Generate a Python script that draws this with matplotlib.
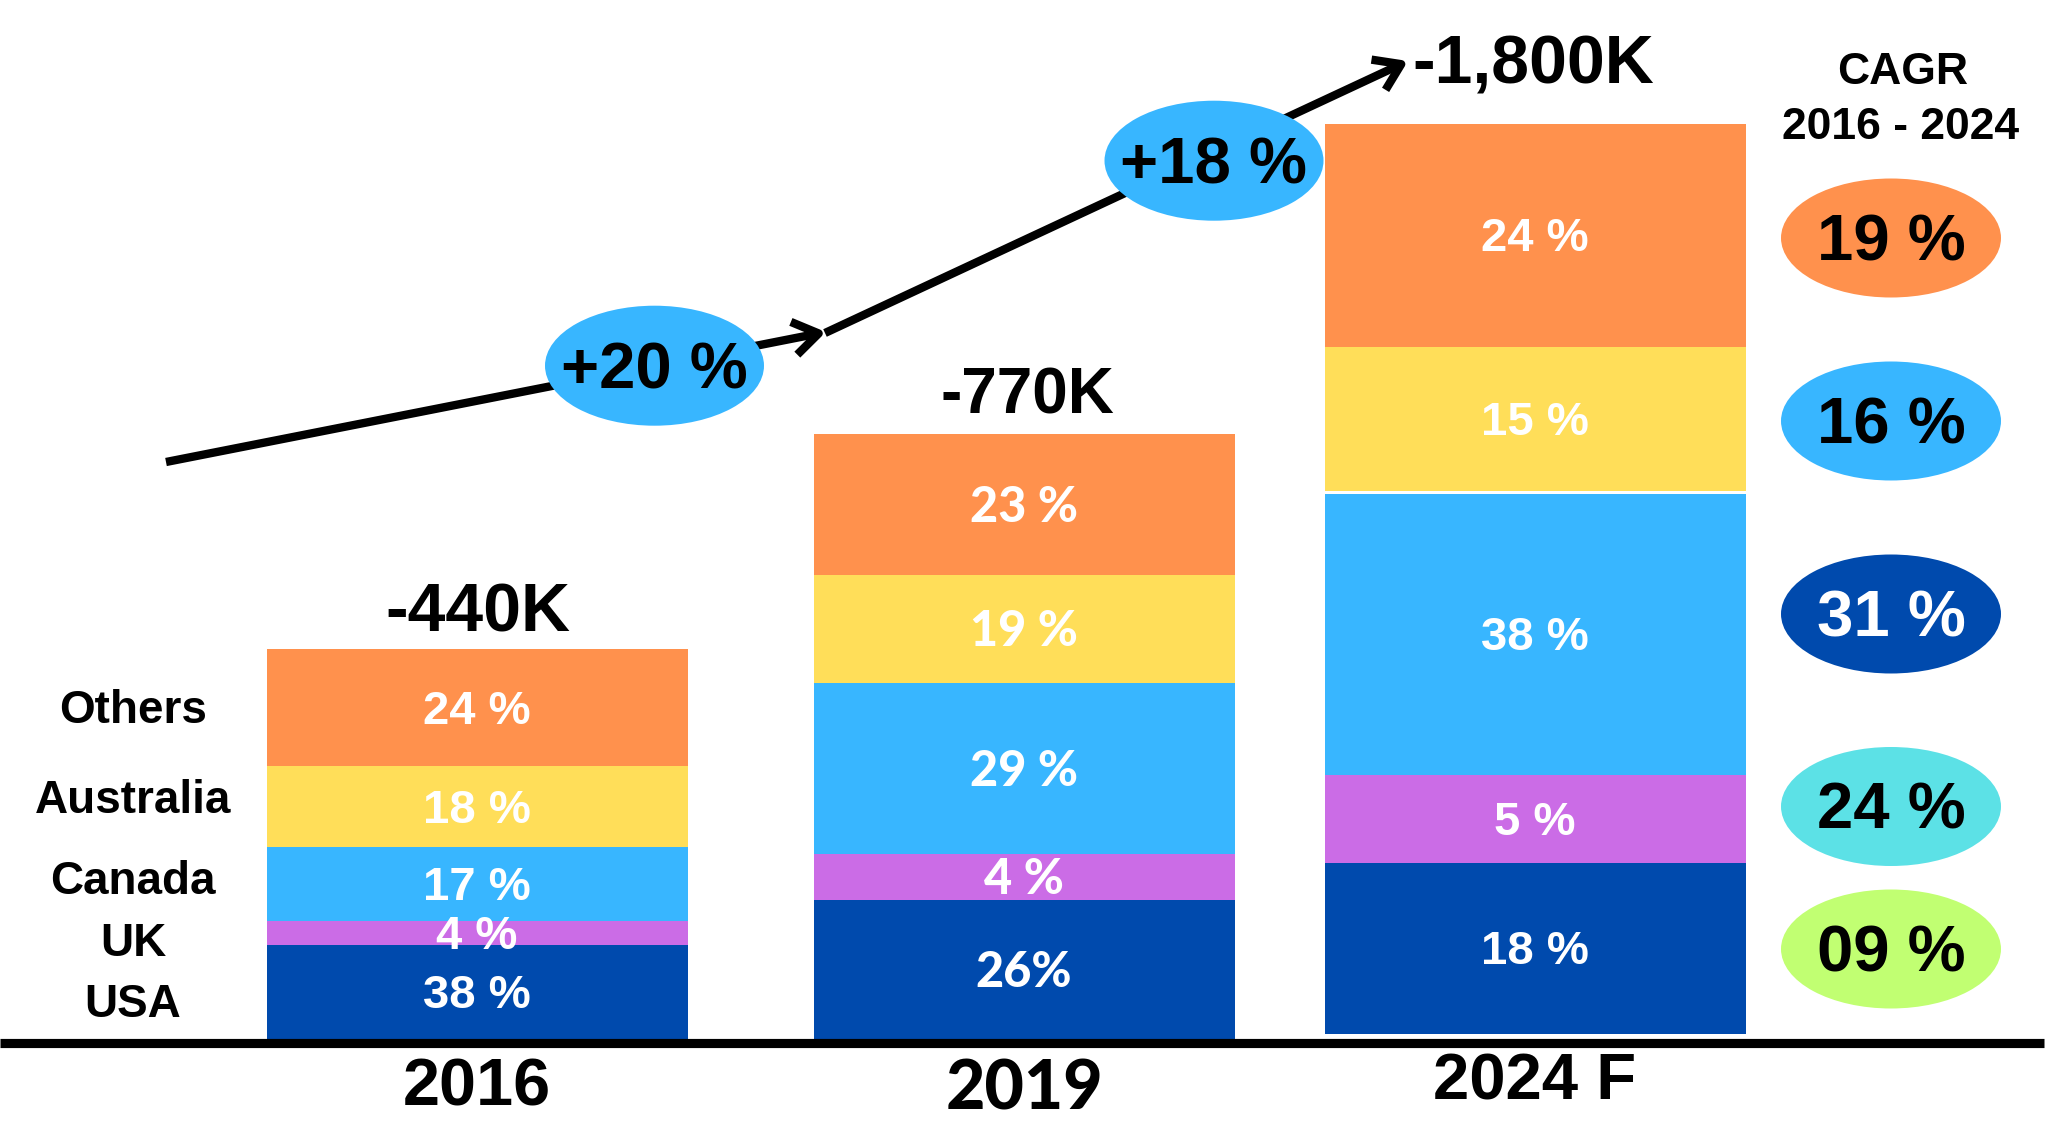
import matplotlib
matplotlib.use('Agg')
import matplotlib.pyplot as plt
from matplotlib.patches import Ellipse, FancyArrowPatch
from matplotlib import font_manager as fm
import numpy as np

# ---------------- data ----------------
years = ['2016', '2019', '2024 F']
totals = ['-440K', '-770K', '-1,800K']
series = ['USA', 'UK', 'Canada', 'Australia', 'Others']
# segment heights as drawn in the picture (not proportional to the shares)
usa = [94, 139, 171]
uk = [24, 46, 88]
canada = [74, 171, 281]
australia = [81, 108, 144]
others = [117, 141, 223]
share_usa = ['38 %', '26%', '18 %']
share_uk = ['4 %', '4 %', '5 %']
share_canada = ['17 %', '29 %', '38 %']
share_australia = ['18 %', '19 %', '15 %']
share_others = ['24 %', '23 %', '24 %']
growth = ['+20 %', '+18 %']
cagr_title = ['CAGR', '2016 - 2024']
cagr_values = ['19 %', '16 %', '31 %', '24 %', '09 %']

# ---------------- style ----------------
series_colors = ['#004AAD', '#CB6CE6', '#38B6FF', '#FFDE59', '#FF914D']
cagr_colors = ['#FF914D', '#38B6FF', '#004AAD', '#5CE1E6', '#C1FF72']
cagr_text_colors = ['black', 'black', 'white', 'black', 'black']
growth_color = '#38B6FF'

avail = {f.name for f in fm.fontManager.ttflist}
COND = next((n for n in ['Liberation Sans', 'Arimo', 'Roboto'] if n in avail), 'DejaVu Sans')
WIDE = next((n for n in ['Lato', 'Open Sans', 'DejaVu Sans'] if n in avail), 'DejaVu Sans')
CAP = {'Liberation Sans': 0.688, 'Arimo': 0.688, 'Roboto': 0.711, 'Lato': 0.7165,
       'Open Sans': 0.714, 'DejaVu Sans': 0.729}

W, H = 2048, 1138
BASE = 1039  # pixel row of the bar baseline


def Y(py):
    return BASE - py


fig = plt.figure(figsize=(W / 100, H / 100), dpi=100)
ax = fig.add_axes([0, 0, 1, 1])
ax.set_xlim(0, W)
ax.set_ylim(BASE - H, BASE)
ax.axis('off')


def label(x, yc, s, size, family, color='black', weight='bold', z=5):
    cap_px = size / 0.72 * CAP.get(family, 0.7)
    ax.text(x, yc - cap_px / 2, s, ha='center', va='baseline', fontsize=size,
            family=family, fontweight=weight, color=color, zorder=z)


# ---------------- bars ----------------
xs = [477, 1024, 1535]
bar_w = 421
base_off = np.array([0.0, 0.0, 5.4])
gap_before_aus = np.array([0.0, 0.0, 3.0])
bar_fonts = [COND, WIDE, COND]
bar_weights = ['bold', 'black', 'bold']
bar_sizes = [34, 35, 34]

vals_all = [usa, uk, canada, australia, others]
labs_all = [share_usa, share_uk, share_canada, share_australia, share_others]
bottom = base_off.copy()
for name, vals, labs, col in zip(series, vals_all, labs_all, series_colors):
    vals = np.array(vals, dtype=float)
    if name == 'Australia':
        bottom = bottom + gap_before_aus
    ax.bar(xs, vals, bar_w, bottom=bottom, color=col, linewidth=0, zorder=1)
    for i in range(len(xs)):
        label(xs[i], bottom[i] + vals[i] / 2, labs[i], bar_sizes[i], bar_fonts[i],
              color='white', weight=bar_weights[i])
    bottom = bottom + vals

# totals above bars
total_gap = [41, 42, 64]
total_sizes = [49, 46, 49]
for i in range(len(xs)):
    label(xs[i] + [1, 3, -2][i], bottom[i] + total_gap[i], totals[i], total_sizes[i], COND)

# baseline
ax.plot([0, 2044], [Y(1043)] * 2, color='black', lw=6.6, solid_capstyle='butt', zorder=2)

# year labels
year_y = [1083, 1085, 1077]
year_fonts = [COND, WIDE, COND]
year_weights = ['bold', 'black', 'bold']
year_sizes = [48, 49, 47]
for i in range(len(xs)):
    label(xs[i], Y(year_y[i]), years[i], year_sizes[i], year_fonts[i], weight=year_weights[i])

# series names on the left
name_y = [1001, 940, 878, 797.5, 707.5]
for nm, py in zip(series, name_y):
    label(133, Y(py), nm, 33, COND)

# ---------------- growth arrows ----------------
arrow_pts = [((166, 462), (826, 332)), ((825, 333), (1408, 61))]
for (a, b) in arrow_pts:
    ax.add_patch(FancyArrowPatch((a[0], Y(a[1])), (b[0], Y(b[1])),
                                 arrowstyle='->,head_length=0.9,head_width=0.6',
                                 mutation_scale=20, lw=6, color='black',
                                 shrinkA=0, shrinkB=0, capstyle='butt', zorder=2))

growth_pos = [(654.5, 365.7), (1214, 160.7)]
for g, (px, py) in zip(growth, growth_pos):
    ax.add_patch(Ellipse((px, Y(py)), 219, 120, color=growth_color, lw=0, zorder=3))
    label(px, Y(py), g, 47, COND)

# ---------------- CAGR column ----------------
label(1903, Y(69), cagr_title[0], 32, COND)
label(1901, Y(124), cagr_title[1], 32, COND)
cagr_y = [238, 421, 614, 806.5, 949]
for v, py, col, tc in zip(cagr_values, cagr_y, cagr_colors, cagr_text_colors):
    ax.add_patch(Ellipse((1891, Y(py)), 220, 119, color=col, lw=0, zorder=3))
    label(1891, Y(py), v, 47, COND, color=tc)

fig.savefig('out.png', dpi=100, facecolor='white')
